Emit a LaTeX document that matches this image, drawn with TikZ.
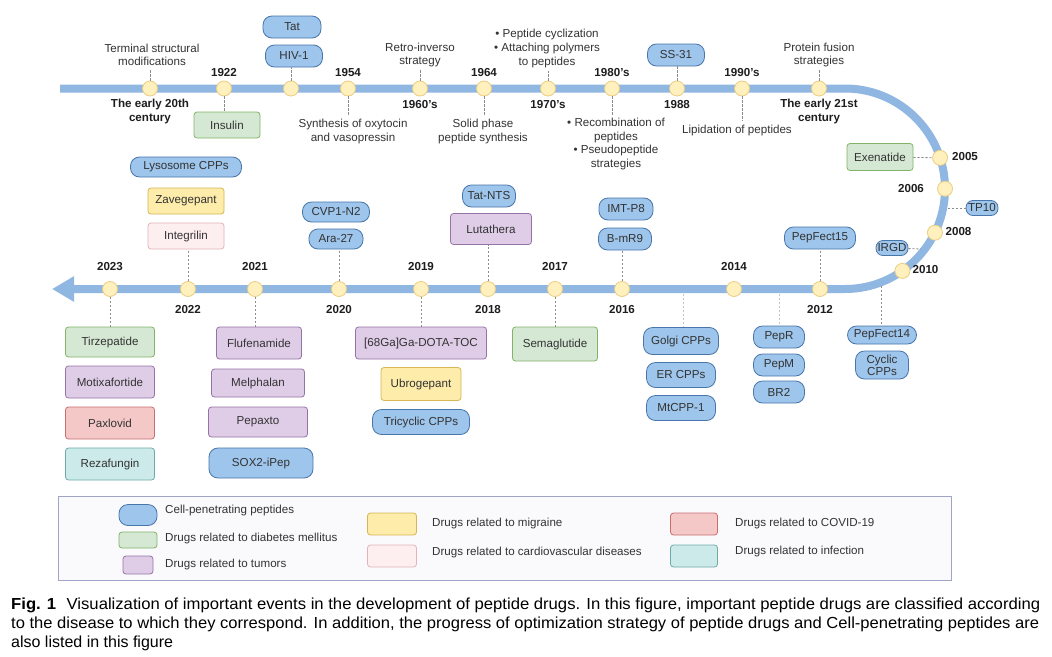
\documentclass[tikz,border=0pt]{standalone}
\usepackage{fontspec}
\usepackage{graphicx}
\setmainfont{Liberation Sans}
\usetikzlibrary{arrows.meta,positioning}
\definecolor{linecol}{RGB}{143,183,225}
\definecolor{dotfill}{RGB}{255,240,190}
\definecolor{dotdraw}{RGB}{235,205,130}
\definecolor{cppfill}{RGB}{158,197,235}
\definecolor{cppdraw}{RGB}{72,118,170}
\definecolor{greenfill}{RGB}{213,232,212}
\definecolor{greendraw}{RGB}{130,179,102}
\definecolor{purplefill}{RGB}{223,205,232}
\definecolor{purpledraw}{RGB}{150,115,166}
\definecolor{yellowfill}{RGB}{253,236,170}
\definecolor{yellowdraw}{RGB}{214,182,86}
\definecolor{pinkfill}{RGB}{253,238,240}
\definecolor{pinkdraw}{RGB}{225,180,185}
\definecolor{redfill}{RGB}{245,200,200}
\definecolor{reddraw}{RGB}{200,110,110}
\definecolor{tealfill}{RGB}{204,234,234}
\definecolor{tealdraw}{RGB}{110,170,170}
\definecolor{legdraw}{RGB}{160,165,200}
\definecolor{legfill}{RGB}{250,250,253}
\definecolor{conncol}{RGB}{140,140,140}
\definecolor{txt}{RGB}{51,51,51}
\definecolor{yrtxt}{RGB}{30,30,30}
\newcommand\lblfont{\fontsize{11.6}{13.6}\selectfont}
\newcommand\capfont{\fontsize{16}{19}\selectfont}
\newlength\capw
\newcommand\capone{\textbf{Fig. 1}\hspace{10pt}Visualization of important events in the development of peptide drugs. In this figure, important peptide drugs are classified according}
\newcommand\captwo{to the disease to which they correspond. In addition, the progress of optimization strategy of peptide drugs and Cell-penetrating peptides are}
\AtBeginDocument{%
   \settowidth\capw{\capfont\capone}\pgfmathsetmacro\capsa{1029pt/\capw}%
   \settowidth\capw{\capfont\captwo}\pgfmathsetmacro\capsb{1028pt/\capw}}
\tikzset{
   evt/.style={circle, draw=dotdraw, fill=dotfill, line width=0.8pt, minimum size=15pt, inner sep=0pt},
   lbl/.style={font=\lblfont, text=txt, inner sep=0pt, align=center},
   yr/.style={font=\lblfont\bfseries, text=yrtxt, inner sep=0pt, align=center},
   cpp/.style={draw=cppdraw, fill=cppfill, line width=0.8pt, rounded corners=9pt, minimum height=22pt, inner sep=0pt, font=\lblfont, text=txt, align=center},
   drug/.style={line width=0.8pt, rounded corners=3pt, minimum height=28pt, inner sep=0pt, font=\lblfont, text=txt},
   gdrug/.style={drug, draw=greendraw, fill=greenfill},
   mdrug/.style={drug, draw=purpledraw, fill=purplefill},
   ydrug/.style={drug, draw=yellowdraw, fill=yellowfill},
   pdrug/.style={drug, draw=pinkdraw, fill=pinkfill},
   rdrug/.style={drug, draw=reddraw, fill=redfill},
   tdrug/.style={drug, draw=tealdraw, fill=tealfill},
   conn/.style={draw=conncol, line width=0.8pt, dash pattern=on 2.2pt off 1.8pt},
   tconn/.style={conn, shorten >=3pt},
   fconn/.style={conn, draw=conncol!50},
   leg/.style={font=\lblfont, text=txt, inner sep=0pt, anchor=west}
}
\begin{document}
\begin{tikzpicture}[x=1pt, y=-1pt]
   \path[use as bounding box, fill=white] (0,0) rectangle (1052,656);
   \draw[line width=8pt, draw=linecol, -{Triangle[length=22pt,width=24pt]}] (60,88.5) -- (845,88.5)
      .. controls (900.2,88.5) and (945,133.4) .. (945,188.75)
      .. controls (945,244.1) and (900.2,289) .. (845,289) -- (52,289);

   \foreach \x [count=\i] in {150,224,291,348,420,484,548,612,677,742,819}
      \node[evt] (t\i) at (\x,88.5) {};
   \foreach \x/\n/\dy in {110/2023/267, 188/2022/309.5, 255/2021/267, 339/2020/309.5, 421/2019/267,
                          488/2018/309.5, 555/2017/267, 622/2016/309.5, 734/2014/267, 820/2012/309.5}{
      \node[evt] (y\n) at (\x,289) {};
      \node[yr] (l\n) at (\x,\dy) {\n};
   }
   \node[evt] (y2005) at (940.1,157.8) {};
   \node[evt] (y2006) at (945,188.75) {};
   \node[evt] (y2008) at (934.9,232.7) {};
   \node[evt] (y2010) at (902.4,270.9) {};
   \node[yr] (l2005) at (965,157) {2005};
   \node[yr] (l2006) at (911,189) {2006};
   \node[yr] (l2008) at (958.5,232) {2008};
   \node[yr] (l2010) at (925.5,270) {2010};
   \coordinate (tp) at (948,208);
   \coordinate (rg) at (921,249);
   \coordinate (golgi) at (683,294);
   \coordinate (pepr) at (779,294);
   \coordinate (pf14) at (881,286);

   \node[lbl] (tmod) at (152,55) {Terminal structural\\modifications};
   \node[yr] (l20th) at (150,111.5) {The early 20th\\century};
   \node[yr] (l1922) at (224,72.5) {1922};
   \node[gdrug, minimum width=66pt, minimum height=26pt] (insulin) at (227,125) {Insulin};
   \node[cpp, minimum width=58pt] (tat) at (292,27) {Tat};
   \node[cpp, minimum width=57pt] (hiv) at (294,56) {HIV-1};
   \node[yr] (l1954) at (348,73) {1954};
   \node[lbl] (tsyn) at (353,131.5) {Synthesis of oxytocin\\and vasopressin};
   \node[lbl] (tretro) at (420,55) {Retro-inverso\\strategy};
   \node[yr] (l1960) at (420,105) {1960's};
   \node[yr] (l1964) at (484,73) {1964};
   \node[lbl] (tsolid) at (483,131.5) {Solid phase\\peptide synthesis};
   \node[lbl] (tcyc) at (547,48.5) {\textbullet\ Peptide cyclization\\\textbullet\ Attaching polymers\\to peptides};
   \node[yr] (l1970) at (548,105) {1970's};
   \node[yr] (l1980) at (612,73) {1980's};
   \node[lbl] (trec) at (616,144) {\textbullet\ Recombination of\\peptides\\\textbullet\ Pseudopeptide\\strategies};
   \node[cpp, minimum width=57pt] (ss31) at (676,55) {SS-31};
   \node[yr] (l1988) at (677,105) {1988};
   \node[yr] (l1990) at (742,73) {1990's};
   \node[lbl] (tlip) at (737,130) {Lipidation of peptides};
   \node[lbl] (tfus) at (819,55) {Protein fusion\\strategies};
   \node[yr] (l21st) at (819,111.5) {The early 21st\\century};

   \node[gdrug, minimum width=66pt, minimum height=27pt] (exen) at (880,157) {Exenatide};
   \node[cpp, minimum width=32pt, minimum height=15pt, rounded corners=7pt] (tp10) at (982,208) {TP10};
   \node[cpp, minimum width=32pt, minimum height=15pt, rounded corners=7pt] (irgd) at (892,248) {IRGD};

   \node[cpp, minimum width=111pt, minimum height=20pt] (lyso) at (186,167) {Lysosome CPPs};
   \node[ydrug, minimum width=76pt, minimum height=26pt] (zave) at (186,201) {Zavegepant};
   \node[pdrug, minimum width=76pt, minimum height=26pt] (integ) at (186,236) {Integrilin};
   \node[cpp, minimum width=67pt, minimum height=20pt] (cvp) at (336,212) {CVP1-N2};
   \node[cpp, minimum width=54pt, minimum height=20pt] (ara) at (336,239) {Ara-27};
   \node[cpp, minimum width=53pt] (tatnts) at (489,196) {Tat-NTS};
   \node[mdrug, minimum width=81pt, minimum height=31pt] (luta) at (491,229) {Lutathera};
   \node[cpp, minimum width=54pt] (imt) at (626,209) {IMT-P8};
   \node[cpp, minimum width=53pt] (bmr) at (625,239) {B-mR9};
   \node[cpp, minimum width=71pt] (pf15) at (820,238) {PepFect15};

   \node[gdrug, minimum width=89pt, minimum height=30pt] (tirz) at (110,342) {Tirzepatide};
   \node[mdrug, minimum width=89pt, minimum height=32pt] (moti) at (110,382) {Motixafortide};
   \node[rdrug, minimum width=89pt, minimum height=32pt] (paxl) at (110,423) {Paxlovid};
   \node[tdrug, minimum width=89pt, minimum height=32pt] (reza) at (110,464) {Rezafungin};
   \node[mdrug, minimum width=85pt, minimum height=32pt] (flufe) at (259,343) {Flufenamide};
   \node[mdrug, minimum width=93pt, minimum height=28pt] (melph) at (258,383) {Melphalan};
   \node[mdrug, minimum width=99pt, minimum height=30pt] (pepax) at (258,422) {Pepaxto};
   \node[cpp, minimum width=104pt, minimum height=30pt] (sox) at (261,463) {SOX2-iPep};
   \node[mdrug, minimum width=131pt, minimum height=32pt] (dota) at (421,343) {[68Ga]Ga-DOTA-TOC};
   \node[ydrug, minimum width=80pt, minimum height=33pt] (ubro) at (421,384) {Ubrogepant};
   \node[cpp, minimum width=97pt, minimum height=25pt] (tricy) at (421,422) {Tricyclic CPPs};
   \node[gdrug, minimum width=85pt, minimum height=34pt] (sema) at (555,344) {Semaglutide};
   \node[cpp, minimum width=75pt, minimum height=27pt] (golgicpp) at (681,341) {Golgi CPPs};
   \node[cpp, minimum width=69pt, minimum height=25pt] (ercpp) at (681,375) {ER CPPs};
   \node[cpp, minimum width=69pt, minimum height=25pt] (mtcpp) at (681,408) {MtCPP-1};
   \node[cpp, minimum width=51pt] (pepR) at (779,337) {PepR};
   \node[cpp, minimum width=51pt] (pepM) at (779,365) {PepM};
   \node[cpp, minimum width=51pt] (br2) at (779,392) {BR2};
   \node[cpp, minimum width=69pt, minimum height=18pt] (pf14box) at (882,335) {PepFect14};
   \node[cpp, minimum width=53pt, minimum height=28pt] (cyclic) at (882,365) {Cyclic\\[-1.5pt]CPPs};

   \draw[tconn] (t1) -- (t1 |- tmod.south);
   \draw[conn] (t2) -- (t2 |- insulin.north);
   \draw[conn] (t3) -- (t3 |- hiv.south);
   \draw[tconn] (t4) -- (t4 |- tsyn.north);
   \draw[tconn] (t5) -- (t5 |- tretro.south);
   \draw[tconn] (t6) -- (t6 |- tsolid.north);
   \draw[tconn] (t7) -- (t7 |- tcyc.south);
   \draw[tconn] (t8) -- (t8 |- trec.north);
   \draw[conn] (t9) -- (t9 |- ss31.south);
   \draw[tconn] (t10) -- (t10 |- tlip.north);
   \draw[tconn] (t11) -- (t11 |- tfus.south);
   \draw[conn] (exen) -- (y2005);
   \draw[conn] (tp) -- (tp10);
   \draw[conn] (irgd) -- (rg);
   \draw[conn] (y2023) -- (y2023 |- tirz.north);
   \draw[conn] (y2022) -- (y2022 |- integ.south);
   \draw[conn] (y2021) -- (y2021 |- flufe.north);
   \draw[conn] (y2020) -- (y2020 |- ara.south);
   \draw[conn] (y2019) -- (y2019 |- dota.north);
   \draw[conn] (y2018) -- (y2018 |- luta.south);
   \draw[conn] (y2017) -- (y2017 |- sema.north);
   \draw[conn] (y2016) -- (y2016 |- bmr.south);
   \draw[conn] (y2012) -- (y2012 |- pf15.south);
   \draw[fconn] (golgi) -- (golgi |- golgicpp.north);
   \draw[fconn] (pepr) -- (pepr |- pepR.north);
   \draw[conn] (pf14) -- (pf14 |- pf14box.north);

   \draw[draw=legdraw, fill=legfill, line width=1pt] (58,496) rectangle (951,580);
   \node[cpp, minimum width=38pt, minimum height=21pt] (kcpp) at (138,515) {};
   \node[gdrug, minimum width=38pt, minimum height=16pt] (kdia) at (138,540) {};
   \node[mdrug, minimum width=30pt, minimum height=18pt] (ktum) at (138,565) {};
   \node[ydrug, minimum width=49pt, minimum height=22pt] (kmig) at (392,524) {};
   \node[pdrug, minimum width=49pt, minimum height=22pt] (kcar) at (392,556) {};
   \node[rdrug, minimum width=47pt, minimum height=22pt] (kcov) at (694,524) {};
   \node[tdrug, minimum width=47pt, minimum height=22pt] (kinf) at (694,556) {};
   \node[leg] (tcpp) at (165,510) {Cell-penetrating peptides};
   \node[leg] (tdia) at (165,538) {Drugs related to diabetes mellitus};
   \node[leg] (ttum) at (165,564) {Drugs related to tumors};
   \node[leg] (tmig) at (432,523) {Drugs related to migraine};
   \node[leg] (tcar) at (432,552) {Drugs related to cardiovascular diseases};
   \node[leg] (tcov) at (735,523) {Drugs related to COVID-19};
   \node[leg] (tinf) at (735,551) {Drugs related to infection};

   \node[anchor=north west, align=left, inner sep=0pt, font=\capfont, text=black] (cap) at (11,598)
      {\scalebox{\capsa}[1]{\capone}\\
       \scalebox{\capsb}[1]{\captwo}\\
       also listed in this figure};
\end{tikzpicture}
\end{document}
